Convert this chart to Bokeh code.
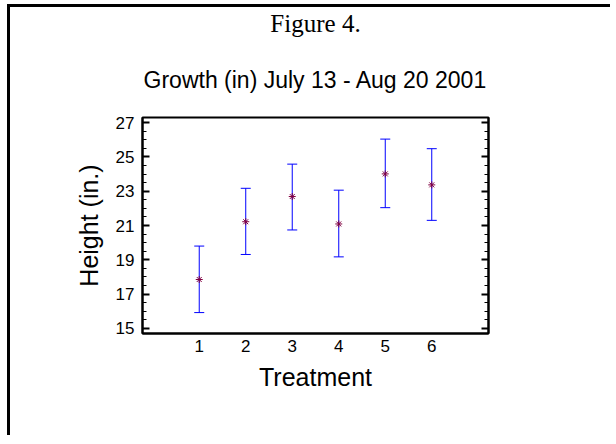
from bokeh.plotting import figure
from bokeh.layouts import column
from bokeh.models import (ColumnDataSource, Whisker, TeeHead, Title, LinearAxis,
                          FixedTicker, Range1d)
from bokeh.embed import file_html
from bokeh.resources import INLINE

# ---- data ----
treatment = [1, 2, 3, 4, 5, 6]
mean_height = [17.85, 21.22, 22.69, 21.09, 24.01, 23.37]
lower_height = [15.92, 19.31, 20.74, 19.17, 22.04, 21.30]
upper_height = [19.80, 23.17, 24.58, 23.06, 26.04, 25.48]
x_ticks = [1, 2, 3, 4, 5, 6]
y_ticks = [15, 17, 19, 21, 23, 25, 27]
y_minor = [t + k * 0.5 for t in y_ticks[:-1] for k in (1, 2, 3)]

src = ColumnDataSource(dict(x=treatment, mean=mean_height,
                            lower=lower_height, upper=upper_height))

p = figure(width=600, height=428, output_backend="svg", toolbar_location=None,
           x_range=Range1d(-0.22, 7.22), y_range=Range1d(14.7, 27.3),
           x_axis_type=None, y_axis_type=None,
           min_border_left=132, min_border_right=122,
           min_border_top=100, min_border_bottom=102,
           background_fill_color="white", border_fill_color="white")
p.xgrid.visible = False
p.ygrid.visible = False
p.outline_line_color = "black"
p.outline_line_width = 2

FONT = "Liberation Sans"

xaxis = LinearAxis(ticker=FixedTicker(ticks=x_ticks),
                   axis_label="Treatment",
                   axis_label_text_font=FONT, axis_label_text_font_size="25px",
                   axis_label_text_font_style="normal", axis_label_text_color="black",
                   axis_label_standoff=8,
                   major_label_text_font=FONT, major_label_text_font_size="17px",
                   major_label_text_color="black", major_label_standoff=6,
                   major_tick_in=0, major_tick_out=0, minor_tick_in=0, minor_tick_out=0,
                   axis_line_color="black", axis_line_width=2)
p.add_layout(xaxis, "below")

yaxis = LinearAxis(ticker=FixedTicker(ticks=y_ticks, minor_ticks=y_minor),
                   axis_label="Height (in.)",
                   axis_label_text_font=FONT, axis_label_text_font_size="25px",
                   axis_label_text_font_style="normal", axis_label_text_color="black",
                   axis_label_standoff=10,
                   major_label_text_font=FONT, major_label_text_font_size="17px",
                   major_label_text_color="black", major_label_standoff=8,
                   major_tick_in=7, major_tick_out=0, minor_tick_in=4, minor_tick_out=0,
                   major_tick_line_color="black", minor_tick_line_color="black",
                   major_tick_line_width=2, minor_tick_line_width=1,
                   axis_line_color="black", axis_line_width=2)
p.add_layout(yaxis, "left")

raxis = LinearAxis(ticker=FixedTicker(ticks=y_ticks, minor_ticks=y_minor),
                   major_label_overrides={t: "" for t in y_ticks},
                   major_label_standoff=0,
                   major_tick_in=7, major_tick_out=0, minor_tick_in=4, minor_tick_out=0,
                   major_tick_line_color="black", minor_tick_line_color="black",
                   major_tick_line_width=2, minor_tick_line_width=1,
                   axis_line_color="black", axis_line_width=2)
p.add_layout(raxis, "right")

whisk = Whisker(source=src, base="x", upper="upper", lower="lower",
                line_color="blue", line_width=1,
                upper_head=TeeHead(size=10, line_color="blue", line_width=1),
                lower_head=TeeHead(size=10, line_color="blue", line_width=1))
p.add_layout(whisk)

p.scatter("x", "mean", source=src, marker="asterisk", size=7,
          line_color="#800040", line_width=1)

p.add_layout(Title(text="Growth (in) July 13 - Aug 20 2001", align="center",
                   vertical_align="bottom",
                   text_font=FONT, text_font_size="23px", text_font_style="normal",
                   text_color="black", standoff=49), "above")
p.add_layout(Title(text="Figure 4.", align="center", vertical_align="top",
                   text_font="Liberation Serif", text_font_size="25px",
                   text_font_style="normal", text_color="black", standoff=4), "above")

page = column(p, styles={"border-top": "3px solid black",
                         "border-left": "3px solid black",
                         "margin-top": "4px", "margin-left": "7px"})

open("out.html", "w").write(file_html(page, INLINE))
